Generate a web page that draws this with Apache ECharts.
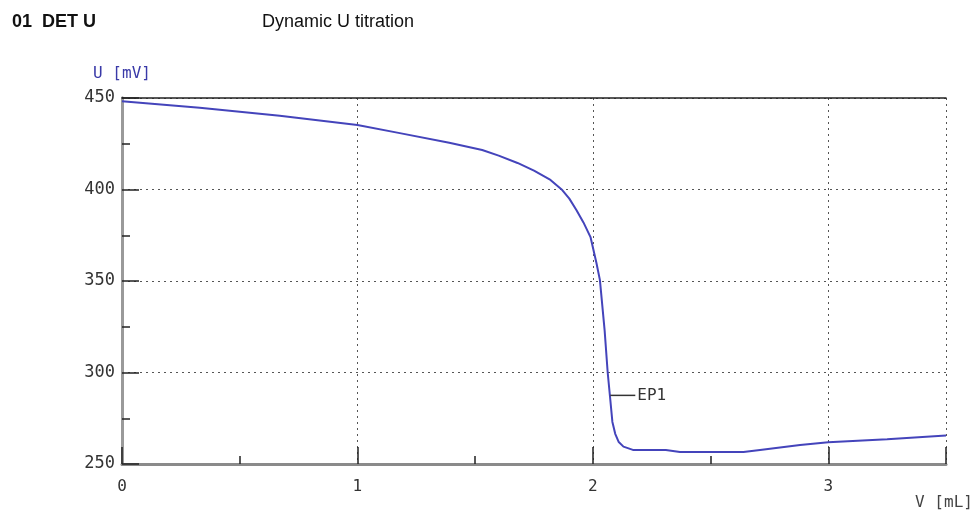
<!DOCTYPE html>
<html>
<head>
<meta charset="utf-8">
<script src="https://cdn.jsdelivr.net/npm/echarts@6/dist/echarts.min.js"></script>
<style>html,body{margin:0;padding:0;background:#fff}#c{width:977px;height:515px}</style>
</head>
<body>
<div id="c"></div>
<script>
var titleMain = '01  DET U';
var titleSub = 'Dynamic U titration';
var yName = 'U [mV]';
var xName = 'V [mL]';
var vol = [0, 0.33, 0.67, 1.0, 1.18, 1.39, 1.53, 1.60, 1.68, 1.75, 1.82, 1.87, 1.90, 1.93, 1.96, 1.99, 2.015, 2.03, 2.05, 2.063, 2.073, 2.083, 2.095, 2.11, 2.13, 2.17, 2.31, 2.37, 2.64, 2.71, 2.88, 3.0, 3.25, 3.5];
var mv = [448.2, 444.7, 440.3, 435.2, 430.8, 425.5, 421.6, 418.5, 414.5, 410.3, 405.2, 399.7, 395, 388.8, 382, 374, 360, 350.5, 323, 300, 286.6, 273, 266.5, 262, 259.5, 257.7, 257.7, 256.6, 256.6, 257.7, 260.4, 261.9, 263.5, 265.6];
var epLabel = 'EP1';
var epVol = [2.072];
var epMv = [287.5];

var chart = echarts.init(document.getElementById('c'));
var mono = 'DejaVu Sans Mono';
var pts = vol.map(function(v, i){ return [v, mv[i]]; });
chart.setOption({
  animation: false,
  backgroundColor: '#fff',
  title: [
    {text: titleMain, left: 12, top: 13, padding: 0, textStyle: {fontFamily: 'Liberation Sans', fontSize: 18, fontWeight: 'bold', color: '#111'}},
    {text: titleSub, left: 262, top: 13, padding: 0, textStyle: {fontFamily: 'Liberation Sans', fontSize: 18, fontWeight: 'normal', color: '#111'}}
  ],
  grid: {left: 122, right: 31, top: 98, bottom: 51, show: false},
  xAxis: [{
    type: 'value', min: 0, max: 3.5, interval: 1,
    name: xName, nameLocation: 'end', nameGap: -2,
    nameTextStyle: {fontFamily: mono, fontSize: 16, color: '#444', align: 'center', verticalAlign: 'top', padding: [31, 0, 0, 0]},
    axisLine: {show: true, lineStyle: {color: '#8a8a8a', width: 3}},
    axisTick: {show: true, inside: true, length: 17, lineStyle: {color: '#222', width: 1.5}},
    minorTick: {show: true, splitNumber: 2, length: 8, lineStyle: {color: '#222', width: 1.5}},
    axisLabel: {margin: 15, fontFamily: mono, fontSize: 16, color: '#333', formatter: function(v){ return Math.abs(v - Math.round(v)) < 1e-9 ? String(Math.round(v)) : ''; }},
    splitLine: {show: true, lineStyle: {color: '#555', type: [2, 4], width: 1}}
  }, {
    type: 'value', min: 0, max: 3.5, position: 'top',
    axisLine: {show: true, lineStyle: {color: '#222', width: 1.5}},
    axisTick: {show: false}, axisLabel: {show: false}, splitLine: {show: false}
  }],
  yAxis: [{
    type: 'value', min: 250, max: 450, interval: 50,
    name: yName, nameLocation: 'end', nameGap: 16,
    nameTextStyle: {fontFamily: mono, fontSize: 16, color: '#3a3aa8', align: 'center'},
    axisLine: {show: true, lineStyle: {color: '#8a8a8a', width: 3}},
    axisTick: {show: true, inside: true, length: 17, lineStyle: {color: '#222', width: 1.5}},
    minorTick: {show: true, splitNumber: 2, length: 8, lineStyle: {color: '#222', width: 1.5}},
    axisLabel: {margin: 7, fontFamily: mono, fontSize: 17, color: '#333'},
    splitLine: {show: true, lineStyle: {color: '#555', type: [2, 4], width: 1}}
  }, {
    type: 'value', min: 250, max: 450, position: 'right',
    axisLine: {show: true, lineStyle: {color: '#9a9a9a', width: 3}},
    axisTick: {show: false}, axisLabel: {show: false}, splitLine: {show: false}
  }],
  series: [{
    type: 'line', data: pts, showSymbol: false, smooth: false,
    lineStyle: {color: '#4444bb', width: 2},
    markPoint: {
      symbol: 'rect', symbolSize: [25, 1.5], symbolOffset: [13, 0],
      itemStyle: {color: '#333'},
      label: {show: true, position: 'right', distance: 2, formatter: epLabel, fontFamily: mono, fontSize: 16, color: '#333'},
      data: epVol.map(function(v, i){ return {coord: [v, epMv[i]], value: epLabel}; })
    }
  }]
});
</script>
</body>
</html>
